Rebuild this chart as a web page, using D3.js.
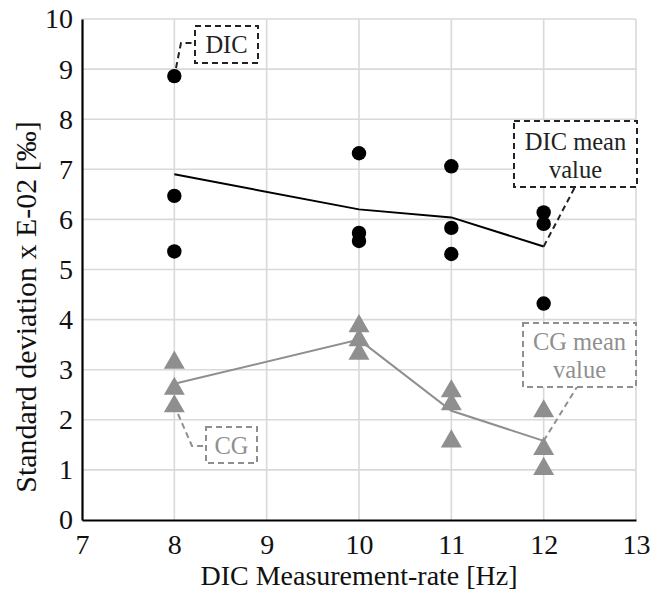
<!DOCTYPE html>
<html>
<head>
<meta charset="utf-8">
<script src="https://cdn.jsdelivr.net/npm/d3@7"></script>
<style>
html,body{margin:0;padding:0;background:#fff;}
svg{display:block;}
text{font-family:"Liberation Serif","Times New Roman",serif;}
</style>
</head>
<body>
<svg id="chart" width="654" height="591"></svg>
<script>
// ---- data ----
const rates = [8, 10, 11, 12];
const dicValues = [
  [8.86, 6.47, 5.36],
  [7.32, 5.73, 5.57],
  [7.06, 5.83, 5.31],
  [6.14, 5.91, 4.32]
];
const cgValues = [
  [3.17, 2.65, 2.30],
  [3.90, 3.62, 3.35],
  [2.60, 2.34, 1.60],
  [2.20, 1.45, 1.05]
];
const dicMean = [6.90, 6.20, 6.04, 5.46];
const cgMean = [2.72, 3.60, 2.18, 1.58];
const xTicks = [7, 8, 9, 10, 11, 12, 13];
const yTicks = [0, 1, 2, 3, 4, 5, 6, 7, 8, 9, 10];

const svg = d3.select("#chart");
const x = d3.scaleLinear().domain([7, 13]).range([82, 636]);
const y = d3.scaleLinear().domain([0, 10]).range([520, 19]);
const black = "#000";
const gray = "#8f8f8f";
const grid = "#d9d9d9";

// grid
svg.append("g").selectAll("line").data(xTicks.slice(1)).join("line")
  .attr("x1", d => x(d)).attr("x2", d => x(d)).attr("y1", y(0)).attr("y2", y(10))
  .attr("stroke", grid).attr("stroke-width", 1.6);
svg.append("g").selectAll("line").data(yTicks.slice(1)).join("line")
  .attr("x1", x(7)).attr("x2", x(13)).attr("y1", d => y(d)).attr("y2", d => y(d))
  .attr("stroke", grid).attr("stroke-width", 1.6);

// axes
const xAxis = svg.append("g").attr("transform", `translate(0,${y(0)})`)
  .call(d3.axisBottom(x).tickValues(xTicks).tickSize(0).tickPadding(14).tickFormat(d3.format("d")));
const yAxis = svg.append("g").attr("transform", `translate(${x(7)},0)`)
  .call(d3.axisLeft(y).tickValues(yTicks).tickSize(0).tickPadding(9).tickFormat(d3.format("d")));
[xAxis, yAxis].forEach(a => {
  a.select(".domain").attr("stroke", black).attr("stroke-width", 2.2);
  a.selectAll("text").attr("font-family", "Liberation Serif").attr("font-size", 28).attr("fill", "#111");
});
xAxis.selectAll("text").attr("dy", "0.71em");

// titles
svg.append("text").attr("x", 359).attr("y", 585).attr("text-anchor", "middle")
  .attr("font-size", 28).attr("fill", "#111").text("DIC Measurement-rate [Hz]");
svg.append("text").attr("transform", "translate(36,307) rotate(-90)").attr("text-anchor", "middle")
  .attr("font-size", 30).attr("fill", "#111").text("Standard deviation x E-02 [‰]");

// mean lines
const line = d3.line().x((d, i) => x(rates[i])).y(d => y(d));
svg.append("path").datum(cgMean).attr("d", line).attr("fill", "none")
  .attr("stroke", gray).attr("stroke-width", 2);
svg.append("path").datum(dicMean).attr("d", line).attr("fill", "none")
  .attr("stroke", black).attr("stroke-width", 2);

// points
const cgPts = cgValues.flatMap((vals, i) => vals.map(v => ({x: rates[i], y: v})));
const dicPts = dicValues.flatMap((vals, i) => vals.map(v => ({x: rates[i], y: v})));
const tri = d3.symbol().type(d3.symbolTriangle).size(190);
svg.append("g").selectAll("path").data(cgPts).join("path")
  .attr("d", tri).attr("transform", d => `translate(${x(d.x)},${y(d.y) + 1.5})`)
  .attr("fill", gray);
svg.append("g").selectAll("circle").data(dicPts).join("circle")
  .attr("cx", d => x(d.x)).attr("cy", d => y(d.y)).attr("r", 7.2).attr("fill", black);

// callouts
function callout(box, lines, color, leader, textY) {
  svg.append("polyline").attr("points", leader.map(p => p.join(",")).join(" "))
    .attr("fill", "none").attr("stroke", color).attr("stroke-width", 2).attr("stroke-dasharray", "6,4");
  svg.append("rect").attr("x", box[0]).attr("y", box[1]).attr("width", box[2]).attr("height", box[3])
    .attr("fill", "#fff").attr("stroke", color).attr("stroke-width", 2).attr("stroke-dasharray", "6,4");
  lines.forEach((t, i) => {
    svg.append("text").attr("x", box[0] + box[2] / 2).attr("y", textY[i]).attr("text-anchor", "middle")
      .attr("font-size", 24.5).attr("fill", color).text(t);
  });
}
callout([195, 26, 63, 37], ["DIC"], "#222", [[176, 68], [181, 43], [195, 43]], [53]);
callout([514, 121, 123, 66], ["DIC mean", "value"], "#222", [[x(12), y(dicMean[3])], [575, 187]], [150, 178]);
callout([206, 427, 51, 36], ["CG"], gray, [[178, 414], [192, 446], [206, 446]], [454]);
callout([523, 323, 113, 64], ["CG mean", "value"], gray, [[x(12), y(cgMean[3])], [577, 387]], [350, 378]);
</script>
</body>
</html>
